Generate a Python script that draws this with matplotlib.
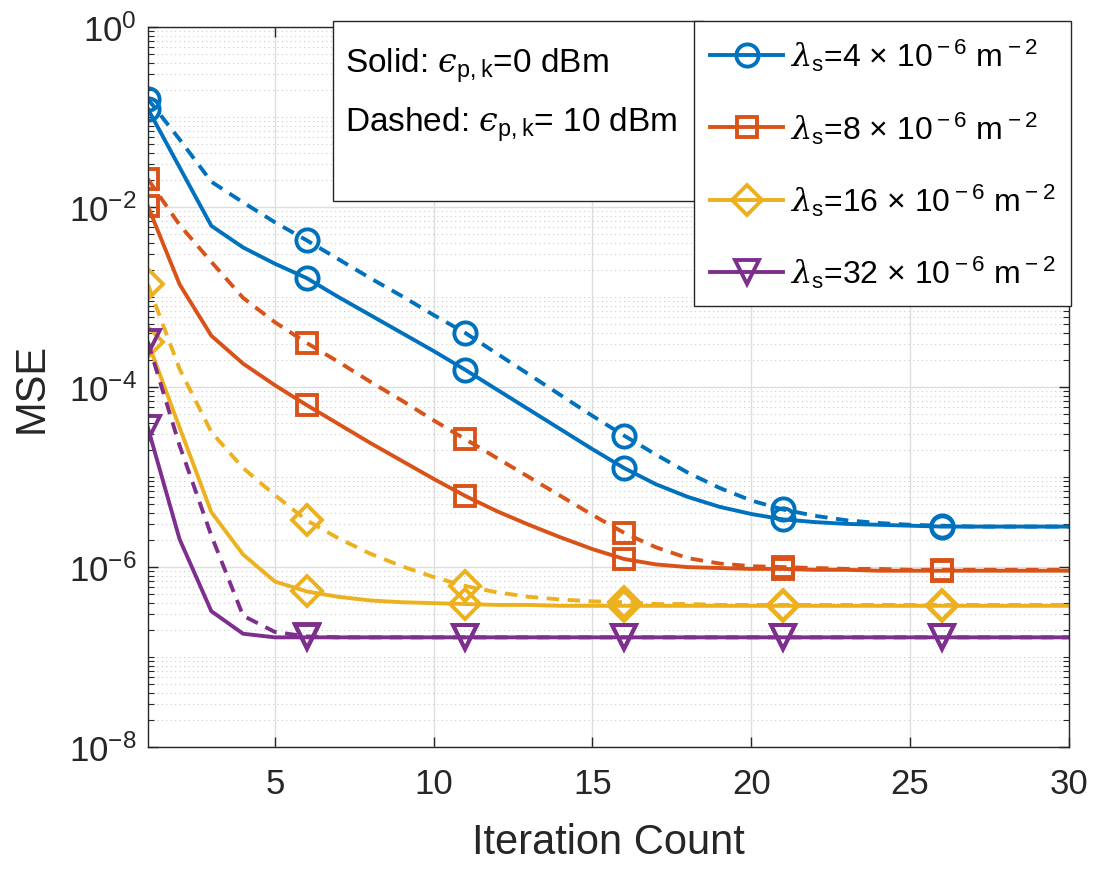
import numpy as np
import matplotlib.pyplot as plt
from matplotlib.ticker import FixedLocator, NullFormatter
from matplotlib.patches import Rectangle

plt.rcParams['font.family'] = ['Liberation Sans', 'DejaVu Sans']
plt.rcParams['mathtext.fontset'] = 'custom'
plt.rcParams['mathtext.rm'] = 'Liberation Sans'
plt.rcParams['mathtext.it'] = 'DejaVu Serif:italic'
plt.rcParams['mathtext.cal'] = 'Liberation Sans'


# data (log10 of MSE per iteration)

iterations = list(range(1, 31))

blue_solid = [-0.91, -1.56, -2.21, -2.45, -2.63, -2.79, -3.0, -3.2, -3.4, -3.6,
              -3.81, -4.03, -4.25, -4.47, -4.69, -4.9, -5.08, -5.22, -5.33, -5.41,
              -5.47, -5.5, -5.52, -5.53, -5.54, -5.55, -5.55, -5.55, -5.55, -5.55]
blue_dashed = [-0.8, -1.25, -1.72, -1.95, -2.17, -2.37, -2.58, -2.79, -2.99, -3.2,
               -3.4, -3.63, -3.86, -4.09, -4.32, -4.54, -4.75, -4.95, -5.12, -5.26,
               -5.36, -5.43, -5.48, -5.51, -5.53, -5.54, -5.55, -5.55, -5.55, -5.55]

orange_solid = [-1.99, -2.86, -3.43, -3.74, -3.98, -4.2, -4.41, -4.62, -4.82, -5.02,
                -5.21, -5.38, -5.53, -5.67, -5.8, -5.91, -5.97, -6.0, -6.01, -6.02,
                -6.02, -6.03, -6.03, -6.04, -6.04, -6.04, -6.04, -6.04, -6.04, -6.04]
orange_dashed = [-1.69, -2.2, -2.61, -3.01, -3.28, -3.51, -3.72, -3.94, -4.15, -4.37,
                 -4.58, -4.79, -5.0, -5.21, -5.42, -5.62, -5.78, -5.9, -5.96, -5.99,
                 -6.0, -6.01, -6.02, -6.02, -6.03, -6.03, -6.03, -6.03, -6.03, -6.03]

yellow_solid = [-3.5, -4.45, -5.39, -5.86, -6.16, -6.27, -6.33, -6.37, -6.39, -6.4,
                -6.41, -6.42, -6.42, -6.43, -6.43, -6.43, -6.43, -6.43, -6.43, -6.43,
                -6.43, -6.43, -6.43, -6.43, -6.43, -6.43, -6.43, -6.43, -6.43, -6.43]
yellow_dashed = [-2.86, -3.8, -4.5, -4.9, -5.2, -5.48, -5.68, -5.85, -5.99, -6.11,
                 -6.21, -6.28, -6.33, -6.36, -6.38, -6.39, -6.41, -6.41, -6.42, -6.42,
                 -6.42, -6.42, -6.42, -6.42, -6.42, -6.42, -6.42, -6.42, -6.42, -6.42]

purple_solid = [-4.45, -5.69, -6.49, -6.74, -6.78, -6.78, -6.78, -6.78, -6.78, -6.78,
                -6.78, -6.78, -6.78, -6.78, -6.78, -6.78, -6.78, -6.78, -6.78, -6.78,
                -6.78, -6.78, -6.78, -6.78, -6.78, -6.78, -6.78, -6.78, -6.78, -6.78]
purple_dashed = [-3.5, -4.65, -5.65, -6.54, -6.72, -6.77, -6.78, -6.78, -6.78, -6.78,
                 -6.78, -6.78, -6.78, -6.78, -6.78, -6.78, -6.78, -6.78, -6.78, -6.78,
                 -6.78, -6.78, -6.78, -6.78, -6.78, -6.78, -6.78, -6.78, -6.78, -6.78]

labels = [
    r'$\lambda_{\rm s}$=4 $\times$ 10$^{\rm -6}$ m$^{\rm -2}$',
    r'$\lambda_{\rm s}$=8 $\times$ 10$^{\rm -6}$ m$^{\rm -2}$',
    r'$\lambda_{\rm s}$=16 $\times$ 10$^{\rm -6}$ m$^{\rm -2}$',
    r'$\lambda_{\rm s}$=32 $\times$ 10$^{\rm -6}$ m$^{\rm -2}$',
]

colors = ['#0072BD', '#D95319', '#EDB120', '#7E2F8E']
markers = ['o', 's', 'D', 'v']
msizes = [16, 14, 15, 17]

solid = [blue_solid, orange_solid, yellow_solid, purple_solid]
dashed = [blue_dashed, orange_dashed, yellow_dashed, purple_dashed]


# plot

fig = plt.figure(figsize=(10.95, 8.7), dpi=100)
ax = fig.add_axes([0.135, 0.140, 0.841, 0.828])

x = np.array(iterations)
handles = []
for s, d, c, m, ms, lab in zip(solid, dashed, colors, markers, msizes, labels):
    h, = ax.plot(x, 10 ** np.array(s), color=c, linewidth=2.8, marker=m,
                 markersize=ms, markerfacecolor='none', markeredgewidth=2.8,
                 markevery=5, label=lab)
    ax.plot(x, 10 ** np.array(d), color=c, linewidth=2.8, linestyle=(0, (3.2, 2.2)),
            marker=m, markersize=ms, markerfacecolor='none', markeredgewidth=2.8,
            markevery=5)
    handles.append(h)

ax.set_yscale('log')
ax.set_xlim(1, 30)
ax.set_ylim(1e-8, 1)

ax.set_xticks([5, 10, 15, 20, 25, 30])
ax.yaxis.set_major_locator(FixedLocator([1e-8, 1e-6, 1e-4, 1e-2, 1]))
minor = [s * 10.0 ** k for k in range(-8, 0) for s in range(1, 10)]
minor = [v for v in minor if v not in (1e-8, 1e-6, 1e-4, 1e-2)]
ax.yaxis.set_minor_locator(FixedLocator(minor))
ax.yaxis.set_minor_formatter(NullFormatter())

ax.tick_params(which='both', direction='in', top=True, right=True,
               labelsize=25, colors='#262626', labelcolor='#262626')
ax.tick_params(which='major', length=7, width=1)
ax.tick_params(which='minor', length=4, width=0.8)
ax.tick_params(axis='x', pad=14)
ax.tick_params(axis='y', pad=8)

ax.grid(True, which='major', color='#dedede', linewidth=1)
ax.grid(True, which='minor', axis='y', color='#cccccc', linestyle=(0, (1, 3)),
        linewidth=0.8)
ax.set_axisbelow(True)

for sp in ax.spines.values():
    sp.set_color('#262626')
    sp.set_linewidth(1)

ax.set_xlabel('Iteration Count', fontsize=30, color='#262626', labelpad=16)
ax.set_ylabel('MSE', fontsize=30, color='#262626', labelpad=12)

leg = ax.legend(handles=handles, loc='upper right', bbox_to_anchor=(1.003, 1.008),
                fontsize=23, fancybox=False, edgecolor='#262626', framealpha=1,
                borderaxespad=0, handlelength=2.3, labelspacing=1.12,
                handletextpad=0.2, borderpad=0.5)
leg.get_frame().set_linewidth(1)

ax.add_patch(Rectangle((0.201, 0.758), 0.402, 0.250, transform=ax.transAxes,
                       facecolor='white', edgecolor='#262626', linewidth=1,
                       clip_on=False, zorder=5))
ax.text(0.214, 0.948, 'Solid: $\u03f5_{\\rm p,k}$=0 dBm', transform=ax.transAxes,
        fontsize=24, va='center', ha='left', zorder=6)
ax.text(0.214, 0.866, 'Dashed: $\u03f5_{\\rm p,k}$= 10 dBm', transform=ax.transAxes,
        fontsize=24, va='center', ha='left', zorder=6)

plt.savefig('out.png')
